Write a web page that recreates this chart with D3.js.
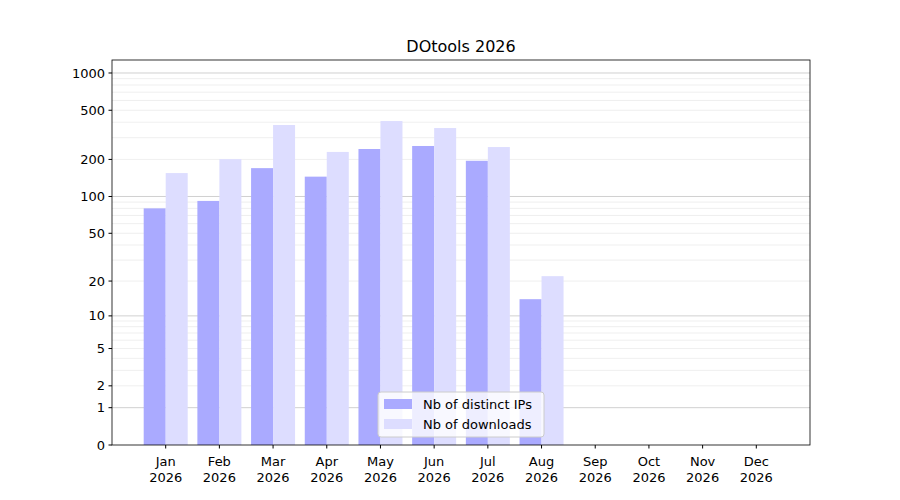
<!DOCTYPE html><html><head><meta charset="utf-8"><script src="https://cdn.jsdelivr.net/npm/d3@7"></script>
<style>body{margin:0;background:#fff}text{font-family:"DejaVu Sans",sans-serif}</style></head><body><svg id="c" width="900" height="500"></svg>
<script>
const months=["Jan","Feb","Mar","Apr","May","Jun","Jul","Aug","Sep","Oct","Nov","Dec"];
const ips=[80,92,170,145,243,257,195,14,null,null,null,null];
const downloads=[155,201,380,230,409,359,252,22,null,null,null,null];
const yTicks=[0,1,2,5,10,20,50,100,200,500,1000];
const svg=d3.select("#c");
const L=112,R=810,T=60,B=445;
const x=d3.scaleLinear().domain([-1,12]).range([L,R]);
const y=d3.scaleSymlog().constant(1).domain([0,1273]).range([B,T]);
const step=x(1)-x(0), bw=22;
// grid
const minor=[];for(const d of [1,10,100,1000])for(let k=2;k<10;k++)if(d*k<1273)minor.push(d*k);
svg.selectAll(".mg").data(minor).join("line").attr("x1",L).attr("x2",R).attr("y1",d=>y(d)).attr("y2",d=>y(d)).attr("stroke","#ebebeb").attr("stroke-width",0.8);
svg.selectAll(".Mg").data([1,10,100,1000]).join("line").attr("x1",L).attr("x2",R).attr("y1",d=>y(d)).attr("y2",d=>y(d)).attr("stroke","#c4c4c4").attr("stroke-width",0.8);
svg.selectAll(".b1").data(ips).join("rect").filter(d=>d!=null).attr("x",(d,i)=>x(i)-bw).attr("width",bw).attr("y",d=>y(d)).attr("height",d=>B-y(d)).attr("fill","#aaaaff");
svg.selectAll(".b2").data(downloads).join("rect").filter(d=>d!=null).attr("x",(d,i)=>x(i)).attr("width",bw).attr("y",d=>y(d)).attr("height",d=>B-y(d)).attr("fill","#ddddff");
svg.append("rect").attr("x",L).attr("y",T).attr("width",R-L).attr("height",B-T).attr("fill","none").attr("stroke","#000").attr("stroke-width",0.8);
const ya=svg.append("g");
yTicks.forEach(t=>{ya.append("line").attr("x1",L-3.5).attr("x2",L).attr("y1",y(t)).attr("y2",y(t)).attr("stroke","#000");
ya.append("text").attr("x",L-7).attr("y",y(t)).attr("dy","0.35em").attr("text-anchor","end").attr("font-size",13).text(t);});
months.forEach((m,i)=>{svg.append("line").attr("x1",x(i)).attr("x2",x(i)).attr("y1",B).attr("y2",B+3.5).attr("stroke","#000");
const t=svg.append("text").attr("x",x(i)).attr("y",B+21).attr("text-anchor","middle").attr("font-size",13);
t.append("tspan").attr("x",x(i)).text(m);t.append("tspan").attr("x",x(i)).attr("dy",16).text("2026");});
svg.append("text").attr("x",(L+R)/2).attr("y",52).attr("text-anchor","middle").attr("font-size",16).text("DOtools 2026");
const lg=svg.append("g").attr("transform","translate(378,392)");
lg.append("rect").attr("width",166).attr("height",45).attr("rx",3).attr("fill","#fff").attr("fill-opacity",0.8).attr("stroke","#ccc");
[["Nb of distinct IPs","#aaaaff"],["Nb of downloads","#ddddff"]].forEach((d,i)=>{
lg.append("rect").attr("x",6).attr("y",7+i*20).attr("width",28).attr("height",10).attr("fill",d[1]);
lg.append("text").attr("x",45).attr("y",12+i*20).attr("dy","0.35em").attr("font-size",13).text(d[0]);});
</script></body></html>
